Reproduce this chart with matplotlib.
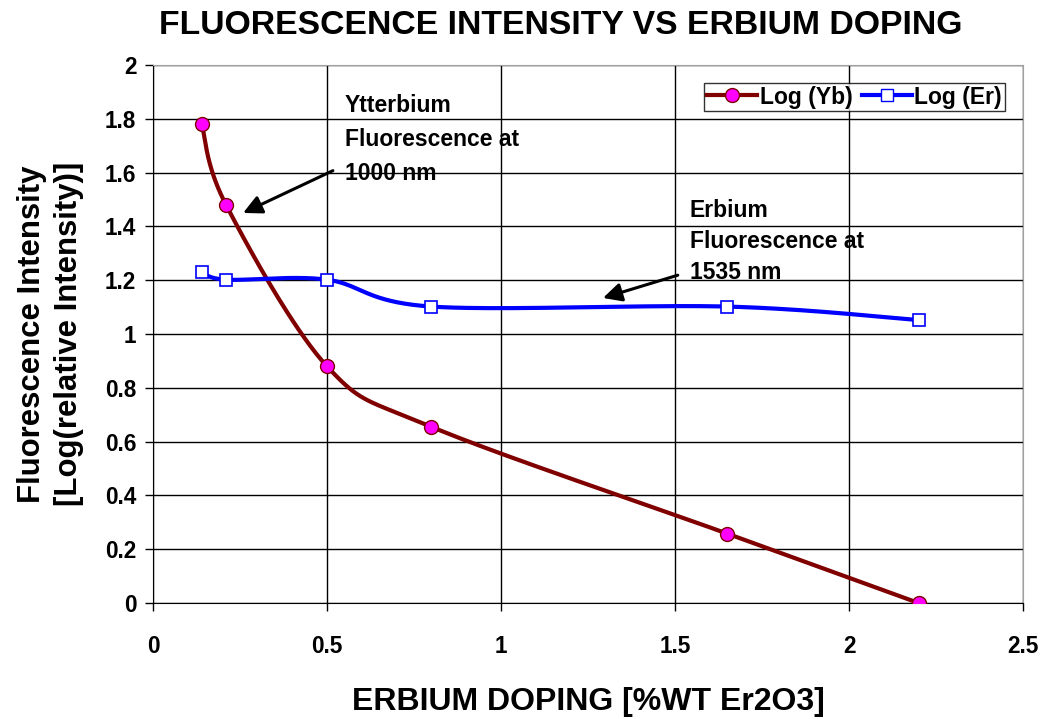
"""
Fluorescence intensity vs erbium doping, Excel-style smoothed lines.
"""

import numpy as np
import matplotlib.pyplot as plt

plt.rcParams['font.family'] = ['Liberation Sans', 'DejaVu Sans']
plt.rcParams['font.weight'] = 'bold'

# Data
# ----------------------------------------------------------------------------

doping = [0.14, 0.21, 0.5, 0.8, 1.65, 2.2]
log_yb = [1.78, 1.48, 0.88, 0.655, 0.258, 0.0]
log_er = [1.232, 1.202, 1.202, 1.102, 1.102, 1.052]

x_ticks = [0, 0.5, 1, 1.5, 2, 2.5]
x_tick_labels = ['0', '0.5', '1', '1.5', '2', '2.5']
y_ticks = [0, 0.2, 0.4, 0.6, 0.8, 1, 1.2, 1.4, 1.6, 1.8, 2]
y_tick_labels = ['0', '0.2', '0.4', '0.6', '0.8', '1', '1.2', '1.4', '1.6', '1.8', '2']


def smooth(x, y, n=40):
    """Catmull-Rom curve through the points, like Excel's smoothed line."""
    p = np.column_stack([x, y])
    p = np.vstack([p[0], p, p[-1]])
    out = []
    for i in range(1, len(p) - 2):
        p0, p1, p2, p3 = p[i - 1], p[i], p[i + 1], p[i + 2]
        c1 = p1 + (p2 - p0) / 6
        c2 = p2 - (p3 - p1) / 6
        t = np.linspace(0, 1, n)[:, None]
        seg = ((1 - t) ** 3 * p1 + 3 * (1 - t) ** 2 * t * c1
               + 3 * (1 - t) * t ** 2 * c2 + t ** 3 * p2)
        out.append(seg)
    out = np.vstack(out)
    return out[:, 0], out[:, 1]


# Plot
# ----------------------------------------------------------------------------

fig = plt.figure(figsize=(10.42, 7.19), dpi=100)
ax = fig.add_axes([0.1468, 0.1613, 0.8350, 0.7483])

xs, ys = smooth(doping, log_yb)
ax.plot(xs, ys, color='#800000', lw=3, zorder=3)
ax.plot(doping, log_yb, 'o', color='#800000', mfc='#ff00ff', mec='#800000',
        ms=10, mew=1, zorder=4)
ax.plot([], [], '-o', color='#800000', mfc='#ff00ff', mec='#800000', ms=10,
        lw=3, label='Log (Yb)')

xs, ys = smooth(doping, log_er)
ax.plot(xs, ys, color='#0000ff', lw=3, zorder=3)
ax.plot(doping, log_er, 's', color='#0000ff', mfc='white', mec='#0000ff',
        ms=8.5, mew=1.2, zorder=4)
ax.plot([], [], '-s', color='#0000ff', mfc='white', mec='#0000ff', ms=8.5,
        lw=3, label='Log (Er)')

ax.set_xlim(0, 2.5)
ax.set_ylim(0, 2)
ax.set_xticks(x_ticks, x_tick_labels)
ax.set_yticks(y_ticks, y_tick_labels)
ax.tick_params(direction='out', length=6, width=1, color='black',
               labelsize=16.3)
ax.tick_params(axis='x', pad=17)
ax.tick_params(axis='y', pad=6)
ax.grid(True, color='black', lw=1)
ax.set_axisbelow(True)
for side in ['top', 'right']:
    ax.spines[side].set_color('#a0a0a0')
for side in ['left', 'bottom']:
    ax.spines[side].set_color('black')

ax.set_xlabel('ERBIUM DOPING [%WT Er2O3]', fontsize=23, fontweight='bold',
              labelpad=21)
ax.set_ylabel('Fluorescence Intensity\n[Log(relative Intensity)]', fontsize=22.4,
              fontweight='bold', labelpad=15, linespacing=1.3)
fig.suptitle('FLUORESCENCE INTENSITY VS ERBIUM DOPING', fontsize=24.3,
             fontweight='bold', x=0.538, y=0.986)

ax.annotate('Ytterbium\nFluorescence at\n1000 nm', xy=(0.259, 1.45),
            xytext=(0.552, 1.555), fontsize=16.5, linespacing=1.6,
            ha='left', va='bottom', zorder=5,
            arrowprops=dict(arrowstyle='-|>', color='black', lw=2.2,
                            mutation_scale=28, shrinkA=0, shrinkB=0,
                            relpos=(-0.07, 0.155)))
ax.annotate('Erbium\nFluorescence at\n1535 nm', xy=(1.293, 1.134),
            xytext=(1.543, 1.187), fontsize=16.5, linespacing=1.45,
            ha='left', va='bottom', zorder=5,
            arrowprops=dict(arrowstyle='-|>', color='black', lw=2.2,
                            mutation_scale=28, shrinkA=0, shrinkB=0,
                            relpos=(-0.07, 0.1)))

leg = ax.legend(loc='upper right', bbox_to_anchor=(0.979, 0.967), ncol=2,
                fontsize=16.5, frameon=True, fancybox=False, edgecolor='black',
                handlelength=2.2, handletextpad=0.1, columnspacing=0.4,
                borderpad=0.12, borderaxespad=0)
leg.get_frame().set_linewidth(1)

fig.savefig('out.png', dpi=100)
